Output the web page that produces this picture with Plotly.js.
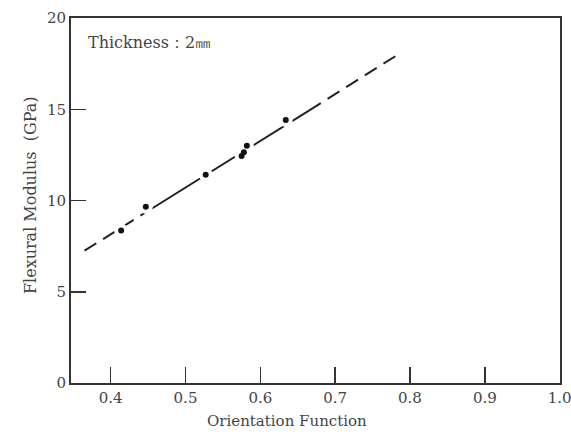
<!DOCTYPE html>
<html>
<head>
<meta charset="utf-8">
<script src="https://cdn.plot.ly/plotly-3.0.1.min.js"></script>
<style>html,body{margin:0;padding:0;background:#fff;}#chart{width:571px;height:439px;}</style>
</head>
<body>
<div id="chart"></div>
<script>
// Measured data points
const orientation = [0.414, 0.447, 0.527, 0.575, 0.578, 0.582, 0.634];
const modulus     = [8.35, 9.66, 11.41, 12.44, 12.64, 13.0, 14.41];

// Fit line breakpoints (dashed - solid - dashed)
const fitLeftX  = [0.365, 0.445];
const fitLeftY  = [7.25, 9.30];
const fitMidX   = [0.445, 0.665];
const fitMidY   = [9.30, 14.93];
const fitRightX = [0.665, 0.783];
const fitRightY = [14.93, 17.97];

const xTicks = [0.4, 0.5, 0.6, 0.7, 0.8, 0.9, 1.0];
const yTicks = [0, 5, 10, 15, 20];

const serif = "DejaVu Serif, Liberation Serif, serif";
const lineColor = "#222";
const textColor = "#444";

const traces = [
  {x: fitLeftX, y: fitLeftY, mode: "lines", line: {color: lineColor, width: 2, dash: "14px,8px"}, hoverinfo: "skip"},
  {x: fitMidX, y: fitMidY, mode: "lines", line: {color: lineColor, width: 2}, hoverinfo: "skip"},
  {x: fitRightX, y: fitRightY, mode: "lines", line: {color: lineColor, width: 2, dash: "14px,8px"}, hoverinfo: "skip"},
  {x: orientation, y: modulus, mode: "markers", marker: {color: "#fff", size: 14}, hoverinfo: "skip"},
  {x: orientation, y: modulus, mode: "markers", marker: {color: "#111", size: 6}}
];

const layout = {
  width: 571, height: 439,
  margin: {l: 71, r: 11, t: 18, b: 56},
  paper_bgcolor: "#fff", plot_bgcolor: "#fff",
  showlegend: false,
  font: {family: serif, color: textColor, size: 15},
  xaxis: {
    range: [0.347, 1.0005],
    tickvals: xTicks, tickformat: ".1f",
    ticks: "inside", ticklen: 16, tickwidth: 1.5, tickcolor: "#333",
    ticklabeloverflow: "allow",
    showgrid: false, zeroline: false,
    showline: true, linecolor: "#333", linewidth: 2, mirror: true,
    tickfont: {family: serif, size: 15, color: textColor}
  },
  yaxis: {
    range: [0, 20],
    tickvals: yTicks,
    ticks: "inside", ticklen: 15, tickwidth: 1.5, tickcolor: "#333",
    showgrid: false, zeroline: false,
    showline: true, linecolor: "#333", linewidth: 2, mirror: true,
    tickfont: {family: serif, size: 15, color: textColor}
  },
  annotations: [
    {
      xref: "paper", yref: "paper", x: 0.031, y: 0.934,
      xanchor: "left", yanchor: "middle", showarrow: false,
      text: "Thickness：2㎜",
      font: {family: serif, size: 16, color: textColor}
    },
    {
      xref: "paper", yref: "paper", x: 0.4417, y: -0.104,
      xanchor: "center", yanchor: "middle", showarrow: false,
      text: "Orientation Function",
      font: {family: serif, size: 15, color: textColor}
    },
    {
      xref: "paper", yref: "paper", x: -0.0838, y: 0.515,
      xanchor: "center", yanchor: "middle", showarrow: false, textangle: -90,
      text: "Flexural Modulus&nbsp;&nbsp;(GPa)",
      font: {family: serif, size: 16, color: textColor}
    }
  ]
};

Plotly.newPlot("chart", traces, layout, {displayModeBar: false, staticPlot: true});
</script>
</body>
</html>
